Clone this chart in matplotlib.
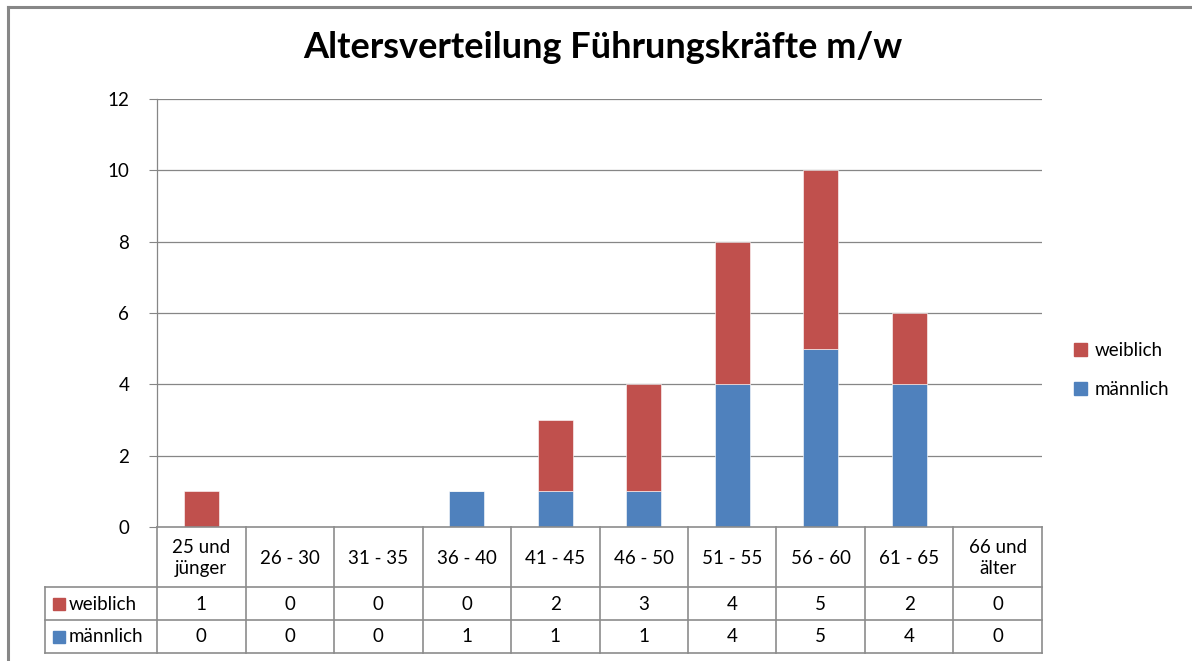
import matplotlib
matplotlib.use("Agg")
import matplotlib.pyplot as plt
from matplotlib.lines import Line2D
from matplotlib.patches import Rectangle

# data
categories = ["25 und\njünger", "26 - 30", "31 - 35", "36 - 40", "41 - 45",
              "46 - 50", "51 - 55", "56 - 60", "61 - 65", "66 und\nälter"]
maennlich = [0, 0, 0, 1, 1, 1, 4, 5, 4, 0]
weiblich = [1, 0, 0, 0, 2, 3, 4, 5, 2, 0]
y_ticks = [0, 2, 4, 6, 8, 10, 12]

RED = "#C0504D"
BLUE = "#4F81BD"
GRID = "#868686"
plt.rcParams["font.family"] = ["Lato", "DejaVu Sans"]

W, H = 1192, 661
fig = plt.figure(figsize=(W / 100, H / 100), dpi=100)

def px(x0, y0, x1, y1):
    # pixel box (top-left origin) -> figure fraction rect
    return [x0 / W, 1 - y1 / H, (x1 - x0) / W, (y1 - y0) / H]

# outer chart border
fig.add_artist(Line2D([8 / W, 1], [1 - 7 / H, 1 - 7 / H], color="#878787", lw=2.2))
fig.add_artist(Line2D([8 / W, 8 / W], [0, 1 - 7 / H], color="#878787", lw=2.2))

fig.text(603 / W, 1 - 47 / H, "Altersverteilung Führungskräfte m/w",
         ha="center", va="center", fontsize=26, fontweight="bold")

# plot area
ax = fig.add_axes(px(157, 99, 1042, 527))
x = list(range(len(categories)))
ax.bar(x, maennlich, width=0.4, color=BLUE, edgecolor="white", linewidth=0.4, zorder=3)
ax.bar(x, weiblich, width=0.4, bottom=maennlich, color=RED, edgecolor="white",
       linewidth=0.4, zorder=3)
ax.set_xlim(-0.5, len(categories) - 0.5)
ax.set_ylim(0, 12)
ax.set_yticks(y_ticks)
ax.tick_params(axis="y", length=6, color=GRID, labelsize=13.5, pad=14)
ax.tick_params(axis="x", length=0, labelbottom=False)
for t in y_ticks[1:]:
    ax.axhline(t, color=GRID, lw=0.9, zorder=1)
for s in ["top", "right", "bottom"]:
    ax.spines[s].set_visible(False)
ax.spines["left"].set_color(GRID)
ax.spines["left"].set_linewidth(0.9)

# legend
handles = [Rectangle((0, 0), 1, 1, color=RED), Rectangle((0, 0), 1, 1, color=BLUE)]
fig.legend(handles, ["weiblich", "männlich"], loc="center left",
           bbox_to_anchor=(1057 / W, 1 - 370 / H), frameon=False, fontsize=13.5,
           handlelength=0.7, handleheight=0.7, handletextpad=0.4, labelspacing=1.2)

# data table
n = len(categories)
lab_w = 112 / 88.5
tab = fig.add_axes(px(45, 527, 1042, 653))
tab.set_xlim(-0.5 - lab_w, n - 0.5)
tab.set_ylim(126, 0)
tab.axis("off")
lc = "#8C8C8C"
row_y = [0, 60, 93, 126]
fs = 13.5
# horizontal lines
tab.plot([-0.5, n - 0.5], [0, 0], color=lc, lw=1.2, clip_on=False)
for yy in row_y[1:]:
    tab.plot([-0.5 - lab_w, n - 0.5], [yy, yy], color=lc, lw=1.2, clip_on=False)
# vertical lines
tab.plot([-0.5 - lab_w] * 2, [60, 126], color=lc, lw=1.2, clip_on=False)
for i in range(n + 1):
    tab.plot([i - 0.5] * 2, [0, 126], color=lc, lw=1.2, clip_on=False)
for i, c in enumerate(categories):
    tab.text(i, 31, c, ha="center", va="center", fontsize=fs, linespacing=1.3)
    tab.text(i, 77, str(weiblich[i]), ha="center", va="center", fontsize=fs)
    tab.text(i, 110, str(maennlich[i]), ha="center", va="center", fontsize=fs)
for yy, name, col in [(77, "weiblich", RED), (110, "männlich", BLUE)]:
    tab.add_patch(Rectangle((-0.5 - lab_w + 0.09, yy - 6), 0.14, 12, color=col, clip_on=False))
    tab.text(-0.5 - lab_w + 0.27, yy, name, ha="left", va="center", fontsize=fs)

fig.savefig("out.png", dpi=100)
